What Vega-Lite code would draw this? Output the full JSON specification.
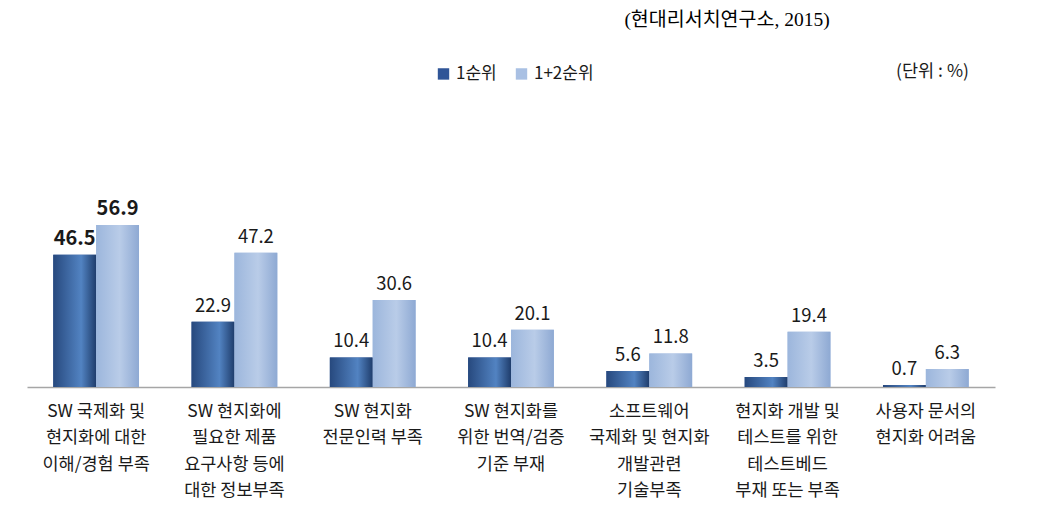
{
  "$schema": "https://vega.github.io/schema/vega-lite/v6.json",
  "width": 968,
  "height": 170.8,
  "autosize": "none",
  "padding": {"left": 27, "top": 216.2, "right": 67, "bottom": 135},
  "background": "white",
  "config": {"view": {"stroke": null}, "font": "Noto Sans CJK KR"},
  "title": {
    "text": "(현대리서치연구소, 2015)",
    "font": "Liberation Serif, Noto Sans CJK KR",
    "fontSize": 19.5,
    "fontWeight": "normal",
    "color": "#000000",
    "anchor": "middle",
    "frame": "group",
    "dx": 216,
    "offset": 32
  },
  "data": {
    "values": [
      {"cat": "SW 국제화 및|현지화에 대한|이해/경험 부족", "series": "1순위", "value": 46.5},
      {"cat": "SW 국제화 및|현지화에 대한|이해/경험 부족", "series": "1+2순위", "value": 56.9},
      {"cat": "SW 현지화에|필요한 제품|요구사항 등에|대한 정보부족", "series": "1순위", "value": 22.9},
      {"cat": "SW 현지화에|필요한 제품|요구사항 등에|대한 정보부족", "series": "1+2순위", "value": 47.2},
      {"cat": "SW 현지화|전문인력 부족", "series": "1순위", "value": 10.4},
      {"cat": "SW 현지화|전문인력 부족", "series": "1+2순위", "value": 30.6},
      {"cat": "SW 현지화를|위한 번역/검증|기준 부재", "series": "1순위", "value": 10.4},
      {"cat": "SW 현지화를|위한 번역/검증|기준 부재", "series": "1+2순위", "value": 20.1},
      {"cat": "소프트웨어|국제화 및 현지화|개발관련|기술부족", "series": "1순위", "value": 5.6},
      {"cat": "소프트웨어|국제화 및 현지화|개발관련|기술부족", "series": "1+2순위", "value": 11.8},
      {"cat": "현지화 개발 및|테스트를 위한|테스트베드|부재 또는 부족", "series": "1순위", "value": 3.5},
      {"cat": "현지화 개발 및|테스트를 위한|테스트베드|부재 또는 부족", "series": "1+2순위", "value": 19.4},
      {"cat": "사용자 문서의|현지화 어려움", "series": "1순위", "value": 0.7},
      {"cat": "사용자 문서의|현지화 어려움", "series": "1+2순위", "value": 6.3}
    ]
  },
  "encoding": {
    "x": {
      "field": "cat",
      "type": "nominal",
      "sort": null,
      "scale": {"paddingInner": 0.38, "paddingOuter": 0.19},
      "axis": {
        "title": null,
        "labelAngle": 0,
        "labelExpr": "split(datum.label, '|')",
        "labelFontSize": 17.5,
        "labelLineHeight": 26.5,
        "labelColor": "#1a1a1a",
        "labelPadding": 15,
        "labelBaseline": "top",
        "ticks": false,
        "domainColor": "#a6a6a6",
        "domainWidth": 1.5,
        "labelLimit": 300
      }
    },
    "xOffset": {"field": "series", "type": "nominal", "sort": ["1순위", "1+2순위"]},
    "y": {
      "field": "value",
      "type": "quantitative",
      "scale": {"domain": [0, 60]},
      "axis": {
        "orient": "right",
        "title": "(단위 : %)",
        "titleAngle": 0,
        "titleX": -63,
        "titleY": -145,
        "titleFontSize": 17.5,
        "titleFontWeight": "normal",
        "titleColor": "#1a1a1a",
        "titleBaseline": "middle",
        "titleAlign": "center",
        "labels": false,
        "ticks": false,
        "domain": false,
        "grid": false
      }
    }
  },
  "layer": [
    {
      "mark": {"type": "bar"},
      "encoding": {
        "color": {
          "field": "series",
          "type": "nominal",
          "sort": ["1순위", "1+2순위"],
          "scale": {"domain": ["1순위", "1+2순위"], "range": ["#2f5597", "#a9c0e3"]},
          "legend": {
            "title": null,
            "orient": "none",
            "direction": "horizontal",
            "legendX": 408,
            "legendY": -151,
            "symbolType": "square",
            "symbolSize": 130,
            "labelFontSize": 17,
            "labelColor": "#1a1a1a",
            "labelOffset": 4,
            "columnPadding": 16
          }
        }
      }
    },
    {
      "transform": [{"filter": "datum.series === '1순위'"}],
      "mark": {
        "type": "bar",
        "fill": {
          "gradient": "linear",
          "x1": 0, "y1": 0, "x2": 1, "y2": 0,
          "stops": [
            {"offset": 0, "color": "#27497e"},
            {"offset": 0.65, "color": "#5283c2"},
            {"offset": 1, "color": "#1f3d6c"}
          ]
        }
      }
    },
    {
      "transform": [{"filter": "datum.series === '1+2순위'"}],
      "mark": {
        "type": "bar",
        "fill": {
          "gradient": "linear",
          "x1": 0, "y1": 0, "x2": 1, "y2": 0,
          "stops": [
            {"offset": 0, "color": "#9cb6dc"},
            {"offset": 0.55, "color": "#b9cce8"},
            {"offset": 1, "color": "#8ea9d3"}
          ]
        }
      }
    },
    {
      "transform": [{"filter": "indexof(datum.cat, '이해/경험') < 0"}],
      "mark": {"type": "text", "baseline": "alphabetic", "dy": -10, "fontSize": 18.5, "color": "#1a1a1a"},
      "encoding": {"text": {"field": "value", "type": "quantitative", "format": ".1f"}}
    },
    {
      "transform": [{"filter": "indexof(datum.cat, '이해/경험') >= 0"}],
      "mark": {"type": "text", "baseline": "alphabetic", "dy": -10, "fontSize": 20, "fontWeight": "bold", "color": "#1a1a1a"},
      "encoding": {"text": {"field": "value", "type": "quantitative", "format": ".1f"}}
    }
  ]
}
